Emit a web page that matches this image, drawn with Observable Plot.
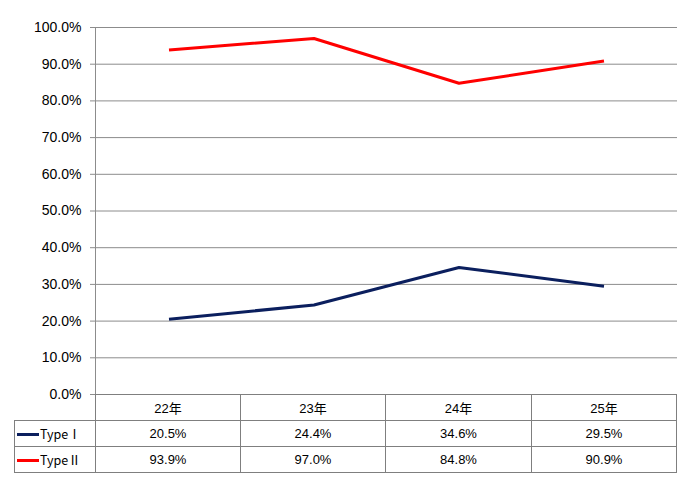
<!DOCTYPE html>
<html>
<head>
<meta charset="utf-8">
<script src="https://cdn.jsdelivr.net/npm/d3@7"></script>
<script src="https://cdn.jsdelivr.net/npm/@observablehq/plot@0.6"></script>
<style>
  html, body { margin: 0; padding: 0; background: #fff; }
  #wrap { position: relative; width: 690px; height: 486px; font-family: "Liberation Sans", "Noto Sans CJK JP", sans-serif; }
  #chart { position: absolute; left: 0; top: 0; }
  #tbl { position: absolute; left: 14px; top: 394px; border-collapse: collapse; table-layout: fixed; width: 663px; font-size: 13px; color: #000; background: transparent; }
  #tbl td { border: 1px solid #7f7f7f; height: 25px; padding: 0; text-align: center; white-space: nowrap; }
  #tbl td.blank { border-top: none; border-left: none; }
  #tbl td.lab { text-align: left; padding-left: 2px; font-family: "Noto Sans CJK JP", sans-serif; font-size: 12.5px; }
  .sw { display: inline-block; width: 22px; height: 3px; vertical-align: middle; margin-right: 1px; position: relative; top: -1px; }
</style>
</head>
<body>
<div id="wrap">
  <div id="chart"></div>
  <table id="tbl"></table>
</div>
<script>
const years = ["22年", "23年", "24年", "25年"];
const seriesNames = ["TypeⅠ", "TypeⅡ"];
const seriesColors = ["#0b1f5e", "#ff0000"];
const typeI = [0.205, 0.244, 0.346, 0.295];
const typeII = [0.939, 0.970, 0.848, 0.909];
const yTicks = [0, 0.1, 0.2, 0.3, 0.4, 0.5, 0.6, 0.7, 0.8, 0.9, 1.0];

const seriesValues = [typeI, typeII];
const data = [];
seriesNames.forEach((s, i) => years.forEach((y, j) => data.push({series: s, year: y, value: seriesValues[i][j]})));

const fmt = d3.format(".1%");

const chart = Plot.plot({
  width: 690,
  height: 410,
  marginLeft: 95,
  marginRight: 13,
  marginTop: 27,
  marginBottom: 16,
  style: { fontSize: "14px", fontFamily: "'Liberation Sans', 'Noto Sans CJK JP', sans-serif", color: "#000", background: "transparent", overflow: "visible" },
  x: { type: "band", domain: years, padding: 0, axis: null },
  y: { domain: [0, 1], label: null },
  color: { domain: seriesNames, range: seriesColors },
  marks: [
    Plot.gridY(yTicks, { stroke: "#8c8c8c", strokeOpacity: 1, strokeWidth: 1 }),
    Plot.axisY(yTicks, { tickFormat: fmt, tickSize: 5, tickPadding: 9, stroke: "#8c8c8c", label: null, fill: "#000" }),
    Plot.frame({ anchor: "left", stroke: "#8c8c8c" }),
    Plot.line(data, { x: "year", y: "value", z: "series", stroke: "series", strokeWidth: 3, strokeLinejoin: "round", strokeLinecap: "butt" })
  ]
});
document.getElementById("chart").appendChild(chart);

// data table
const tbl = document.getElementById("tbl");
const colgroup = document.createElement("colgroup");
[81, 145, 145, 146, 145].forEach(w => { const c = document.createElement("col"); c.style.width = w + "px"; colgroup.appendChild(c); });
tbl.appendChild(colgroup);
const hr = tbl.insertRow();
const b = hr.insertCell(); b.className = "blank";
years.forEach(y => { const c = hr.insertCell(); c.textContent = y; });
seriesNames.forEach((s, i) => {
  const r = tbl.insertRow();
  const l = r.insertCell(); l.className = "lab";
  const sw = document.createElement("span"); sw.className = "sw"; sw.style.background = seriesColors[i];
  l.appendChild(sw); l.appendChild(document.createTextNode(s));
  seriesValues[i].forEach(v => { const c = r.insertCell(); c.textContent = fmt(v); });
});
</script>
</body>
</html>
